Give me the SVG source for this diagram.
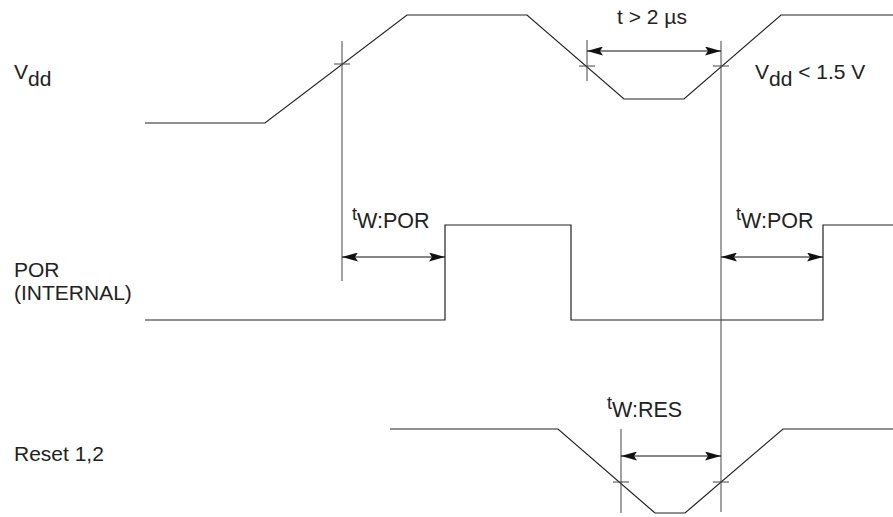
<svg xmlns="http://www.w3.org/2000/svg" width="893" height="517" viewBox="0 0 893 517">
<style>
.w{fill:none;stroke:#222;stroke-width:1.2}
.g{fill:none;stroke:#444;stroke-width:1}
.d{fill:none;stroke:#111;stroke-width:1.2;marker-start:url(#ah);marker-end:url(#ah)}
text{font-family:"Liberation Sans",Arial,sans-serif;fill:#222;font-size:21px}
.s{font-size:18px}
.m{font-size:21.5px}
</style>
<defs>
<marker id="ah" viewBox="0 0 16 9" refX="16" refY="4.5" markerWidth="16" markerHeight="9" markerUnits="userSpaceOnUse" orient="auto-start-reverse">
<path d="M0,0 L16,4.5 L0,9 L3,4.5 z" fill="#111"/>
</marker>
</defs>
<g id="vdd">
<text x="14" y="79">V<tspan dy="7">dd</tspan></text>
<polyline class="w" points="145,123 265,123 407,15 527,15 624,99 684,99 781,15 893,15"/>
</g>
<g id="por">
<text x="14" y="277">POR</text>
<text x="14" y="300">(INTERNAL)</text>
<polyline class="w" points="145,320 445,320 445,225 571,225 571,320 823,320 823,225 893,225"/>
</g>
<g id="reset">
<text x="14" y="461">Reset 1,2</text>
<polyline class="w" points="390,429 558,429 655,513 685,513 783,429 893,429"/>
</g>
<g id="connectors">
<line class="g" x1="342" y1="41" x2="342" y2="281"/>
<line class="g" x1="334" y1="64" x2="350" y2="64"/>
<line class="g" x1="587" y1="40" x2="587" y2="81"/>
<line class="g" x1="579" y1="66" x2="595" y2="66"/>
<line class="g" x1="721" y1="41" x2="721" y2="512"/>
<line class="g" x1="713" y1="66" x2="729" y2="66"/>
<line class="g" x1="621" y1="429" x2="621" y2="513"/>
<line class="g" x1="613" y1="482" x2="629" y2="482"/>
<line class="g" x1="713" y1="482" x2="729" y2="482"/>
<line class="d" x1="587" y1="51" x2="721" y2="51"/>
<line class="d" x1="342" y1="257" x2="445" y2="257"/>
<line class="d" x1="721" y1="257" x2="823" y2="257"/>
<line class="d" x1="621" y1="456" x2="721" y2="456"/>
</g>
<g id="labels">
<text x="617" y="24">t &gt; 2 µs</text>
<text x="755" y="79">V<tspan dy="7">dd</tspan><tspan dy="-7"> &lt; 1.5 V</tspan></text>
<text x="352" y="220" class="s">t<tspan class="m" dy="8">W:POR</tspan></text>
<text x="736" y="220" class="s">t<tspan class="m" dy="8">W:POR</tspan></text>
<text x="607" y="409" class="s">t<tspan class="m" dy="8">W:RES</tspan></text>
</g>
</svg>
